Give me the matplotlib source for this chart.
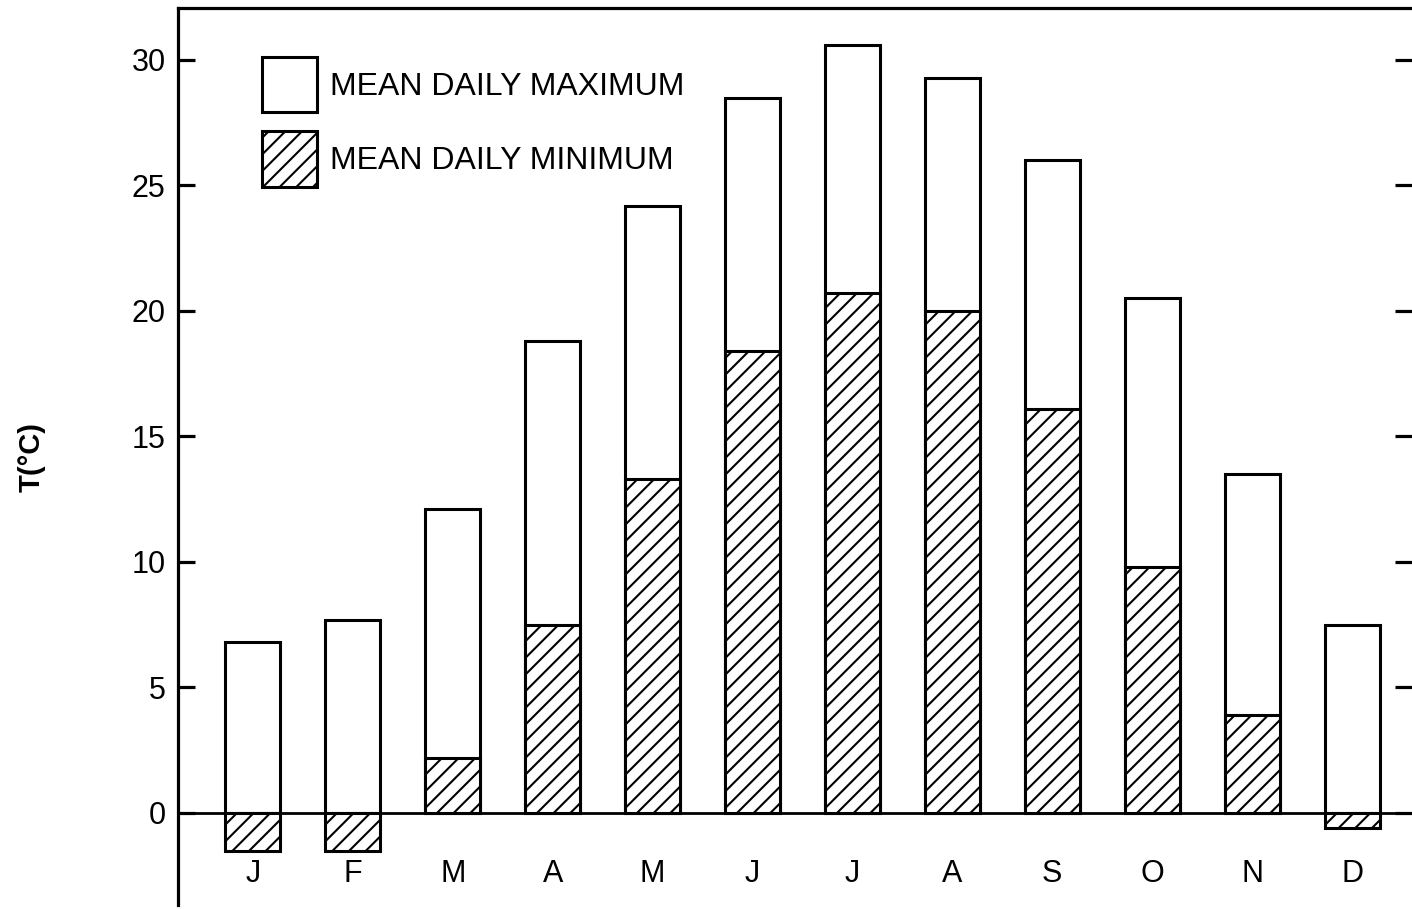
import numpy as np
import matplotlib
matplotlib.use('Agg')
import matplotlib.pyplot as plt
from matplotlib.patches import Patch

plt.rcParams['font.family'] = ['Liberation Sans', 'DejaVu Sans']
plt.rcParams['hatch.linewidth'] = 1.5

# Valores
meses = ['J', 'F', 'M', 'A', 'M', 'J', 'J', 'A', 'S', 'O', 'N', 'D']
t_max = [6.8, 7.7, 12.1, 18.8, 24.2, 28.5, 30.6, 29.3, 26.0, 20.5, 13.5, 7.5]
t_min = [-1.5, -1.5, 2.2, 7.5, 13.3, 18.4, 20.7, 20.0, 16.1, 9.8, 3.9, -0.6]
y_ticks = [0, 5, 10, 15, 20, 25, 30]

fig = plt.figure(figsize=(14.12, 9.09), dpi=100)
ax = fig.add_axes([178 / 1412, 4 / 909, 1 - 178 / 1412, 1 - 12 / 909])

x = np.arange(len(meses))
ancho = 0.55

ax.bar(x, t_max, width=ancho, color='white', edgecolor='black', linewidth=2.2, zorder=2)
ax.bar(x, t_min, width=ancho, color='white', edgecolor='black', linewidth=2.2,
       hatch='//', zorder=3)
ax.axhline(0, color='black', linewidth=2.0, zorder=4)

for xi, m in zip(x, meses):
    ax.text(xi, -2.45, m, ha='center', va='center', fontsize=22)

ax.set_xlim(-0.75, 11.6)
ax.set_ylim(-3.67, 32.07)
ax.set_xticks([])
ax.set_yticks(y_ticks)
ax.tick_params(axis='y', direction='in', length=12, width=2.3, labelsize=22, pad=9,
               right=True)
for lado in ['bottom', 'right']:
    ax.spines[lado].set_visible(False)
ax.spines['left'].set_linewidth(2.3)
ax.spines['top'].set_linewidth(2.3)

ax.set_ylabel('T(°C)', fontsize=21, fontweight='bold', labelpad=62)

handles = [Patch(facecolor='white', edgecolor='black', linewidth=2.2),
           Patch(facecolor='white', edgecolor='black', linewidth=2.2, hatch='//')]
ax.legend(handles, ['MEAN DAILY MAXIMUM', 'MEAN DAILY MINIMUM'],
          loc='upper left', bbox_to_anchor=(0.055, 0.963), frameon=False,
          fontsize=23, handlelength=1.72, handleheight=2.28,
          labelspacing=0.6, handletextpad=0.42, borderpad=0)

fig.savefig('out.png', dpi=100)
